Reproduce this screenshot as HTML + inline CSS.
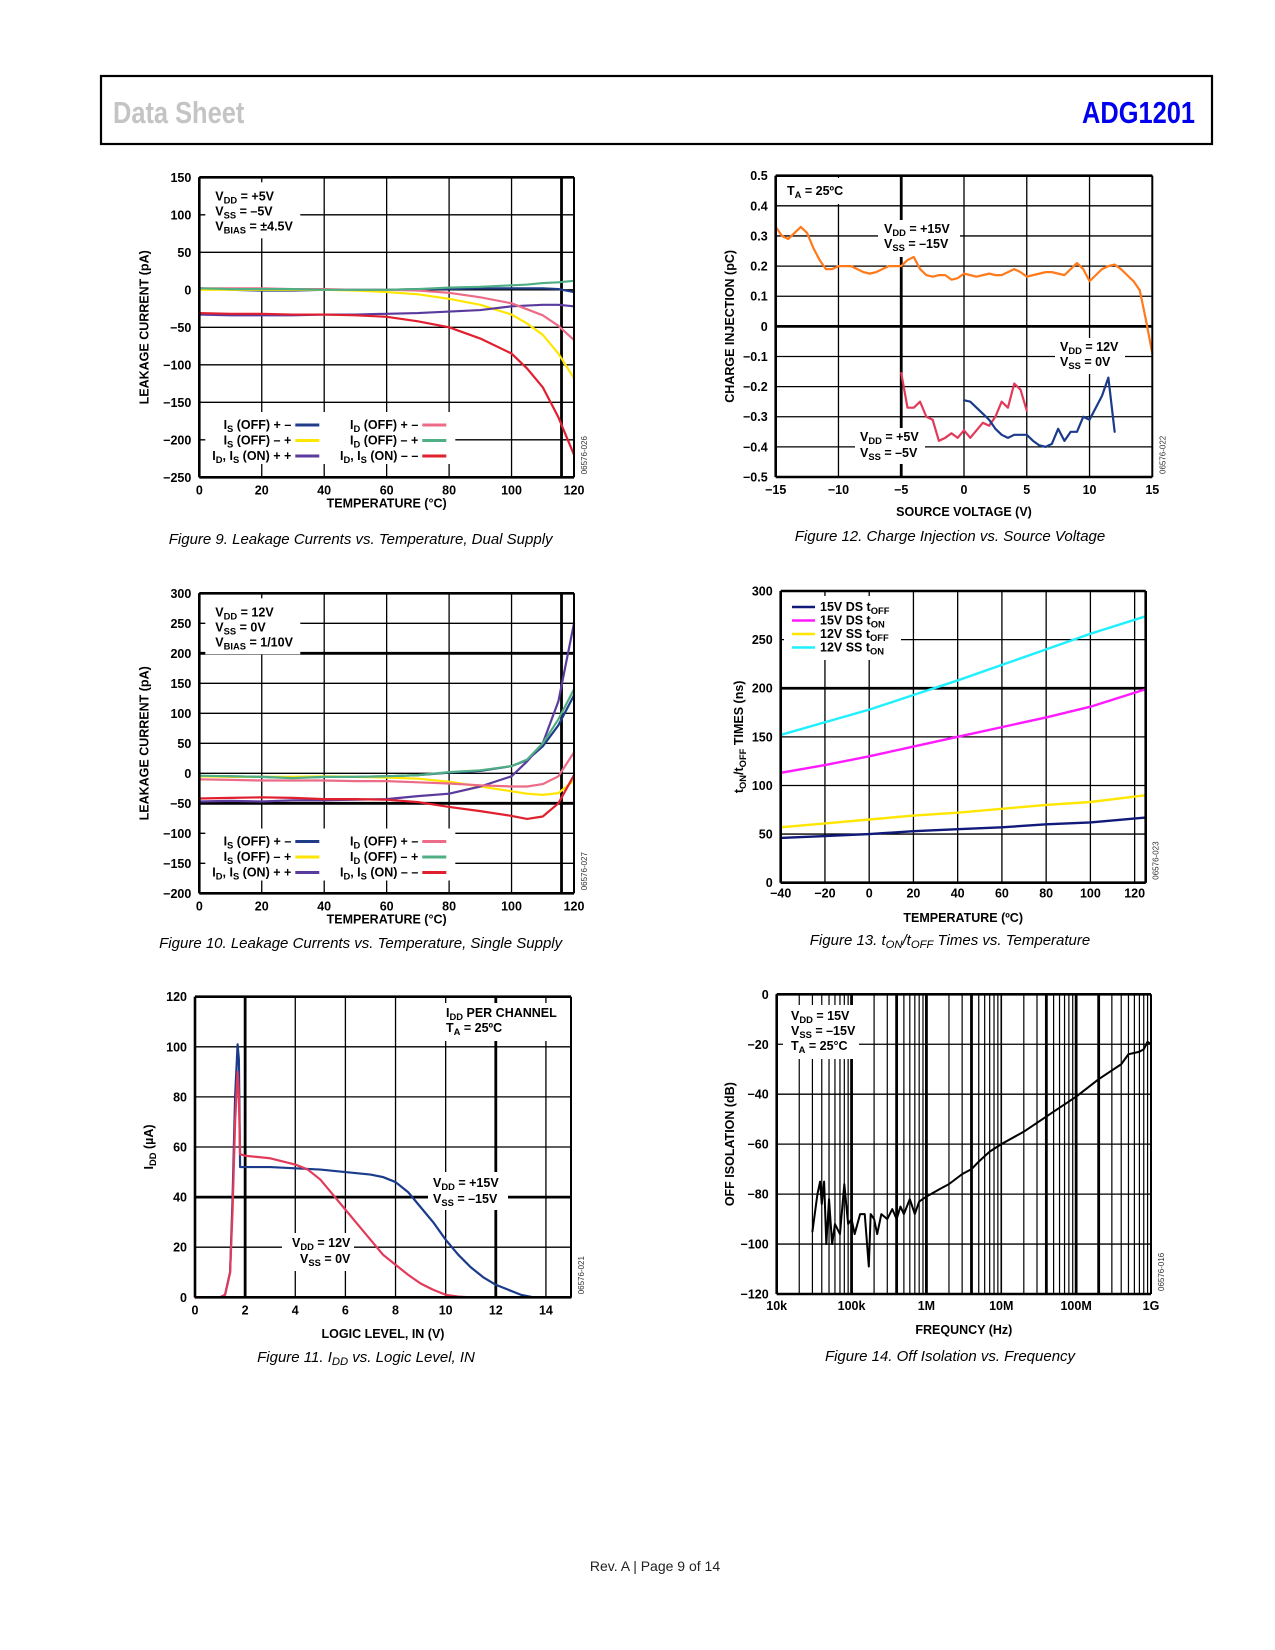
<!DOCTYPE html>
<html><head><meta charset="utf-8"><title>ADG1201 Data Sheet p9</title>
<style>
html,body{margin:0;padding:0;background:#fff;}
svg{display:block;}
text{font-family:"Liberation Sans",sans-serif;}
</style></head>
<body>
<svg id="page" width="1275" height="1650" viewBox="0 0 1275 1650" xmlns="http://www.w3.org/2000/svg">
<rect x="0" y="0" width="1275" height="1650" fill="#fff"/>
<rect x="101" y="76" width="1111" height="68" fill="none" stroke="#000" stroke-width="2.2"/>
<text x="113" y="123" fill="#c4c4c4" font-size="31" font-weight="bold" transform="translate(113 0) scale(0.82 1) translate(-113 0)" font-family="Liberation Sans Narrow, Liberation Sans, sans-serif">Data Sheet</text>
<text x="1195" y="123" fill="#0000ee" font-size="31" font-weight="bold" text-anchor="end" transform="translate(1195 0) scale(0.82 1) translate(-1195 0)" font-family="Liberation Sans Narrow, Liberation Sans, sans-serif">ADG1201</text>
<text x="655" y="1571" font-size="14" text-anchor="middle" fill="#222">Rev. A | Page 9 of 14</text>
<g id="charts"></g>
</svg>
<script>
// ---------- Figure 9 data ----------
const f9Temps = [0,10,20,30,40,50,60,70,80,90,100,105,110,115,120];
const f9IsOffPM = [2,0,-1,-1,0,0,0,1,1,2,2,2,2,1,-3];
const f9IsOffMP = [0,0,0,0,0,-1,-3,-6,-12,-20,-33,-45,-60,-85,-118];
const f9OnPP = [-33,-34,-34,-34,-33,-33,-32,-31,-29,-27,-22,-21,-20,-20,-22];
const f9IdOffPM = [2,2,2,1,1,0,0,-1,-4,-10,-18,-26,-34,-48,-67];
const f9IdOffMP = [2,1,1,1,0,0,0,1,3,4,6,7,9,10,12];
const f9OnMM = [-31,-32,-32,-33,-33,-34,-36,-42,-50,-65,-85,-105,-130,-170,-220];
const f9YTicks = [150,100,50,0,-50,-100,-150,-200,-250];
const f9XTicks = [0,20,40,60,80,100,120];
// ---------- Figure 10 data ----------
const f10Temps = [0,10,20,30,40,50,60,70,80,90,100,105,110,115,120];
const f10IsOffPM = [-5,-5,-6,-7,-6,-6,-5,-3,1,4,12,22,45,80,130];
const f10IsOffMP = [-5,-6,-6,-6,-5,-6,-7,-9,-14,-22,-30,-34,-36,-33,-12];
const f10OnPP = [-47,-46,-47,-45,-45,-44,-43,-38,-34,-22,-5,20,50,120,250];
const f10IdOffPM = [-10,-11,-12,-12,-12,-13,-13,-15,-17,-20,-22,-22,-18,-5,35];
const f10IdOffMP = [-4,-5,-6,-8,-6,-6,-5,-3,2,5,12,23,50,90,140];
const f10OnMM = [-42,-41,-40,-41,-43,-43,-44,-48,-56,-63,-71,-76,-72,-50,-3];
const f10YTicks = [300,250,200,150,100,50,0,-50,-100,-150,-200];
const f10XTicks = [0,20,40,60,80,100,120];
// ---------- Figure 11 data ----------
const f11NavyX = [0,1,1.2,1.4,1.5,1.6,1.7,1.75,1.8,1.85,2,3,4,5,6,7,7.5,8,8.5,9,9.5,10,10.5,11,11.5,12,12.5,13,13.5,14,15];
const f11NavyY = [0,0,1,10,40,80,101,95,52,52,52,52,51.5,51,50,49,48,46,42,36,30,23,17,12,8,5,3,1,0,0,0];
const f11RedX = [0,1,1.2,1.4,1.5,1.6,1.7,1.75,1.8,1.85,2,3,4,4.5,5,5.5,6,6.5,7,7.5,8,8.5,9,9.5,10,10.5,11,12];
const f11RedY = [0,0,1,10,35,70,90,80,57,57,56.5,55.5,53,51,47,41,35,29,23,17,13,9,5.5,3,1,0.3,0,0];
const f11YTicks = [0,20,40,60,80,100,120];
const f11XTicks = [0,2,4,6,8,10,12,14];
// ---------- Figure 12 data ----------
const f12OrangeX = [-15,-14.5,-14,-13.5,-13,-12.5,-12,-11.5,-11,-10.5,-10,-9,-8,-7.5,-7,-6,-5,-4.5,-4,-3.5,-3,-2.5,-2,-1.5,-1,-0.5,0,0.5,1,1.5,2,2.5,3,3.5,4,4.5,5,5.5,6,6.5,7,7.5,8,8.5,9,9.5,10,10.5,11,11.5,12,12.5,13,13.5,14,14.5,15];
const f12OrangeY = [.33,.30,.29,.31,.33,.31,.26,.22,.19,.19,.20,.20,.18,.175,.18,.20,.20,.22,.23,.19,.17,.165,.17,.17,.155,.16,.175,.17,.165,.17,.175,.17,.17,.18,.19,.18,.165,.17,.175,.18,.18,.175,.17,.19,.21,.19,.15,.17,.19,.20,.205,.19,.17,.15,.12,.02,-.09];
const f12RedX = [-5,-4.5,-4,-3.5,-3,-2.5,-2,-1.5,-1,-0.5,0,0.5,1,1.5,2,2.5,3,3.5,4,4.5,5];
const f12RedY = [-.155,-.27,-.27,-.25,-.30,-.31,-.38,-.37,-.355,-.37,-.345,-.37,-.345,-.32,-.33,-.30,-.25,-.27,-.19,-.21,-.28];
const f12NavyX = [0,0.5,1,1.5,2,2.5,3,3.5,4,4.5,5,5.5,6,6.5,7,7.5,8,8.5,9,9.5,10,10.5,11,11.5,12];
const f12NavyY = [-.245,-.25,-.27,-.29,-.31,-.34,-.36,-.37,-.36,-.36,-.36,-.38,-.395,-.40,-.39,-.34,-.38,-.35,-.35,-.30,-.31,-.27,-.23,-.17,-.35];
const f12YTicks = [0.5,0.4,0.3,0.2,0.1,0,-0.1,-0.2,-0.3,-0.4,-0.5];
const f12YLabels = ["0.5","0.4","0.3","0.2","0.1","0","−0.1","−0.2","−0.3","−0.4","−0.5"];
const f12XTicks = [-15,-10,-5,0,5,10,15];
// ---------- Figure 13 data ----------
const f13Temps = [-40,-20,0,20,40,60,80,100,125];
const f13DsOff = [46,48,50,53,55,57,60,62,67];
const f13DsOn = [113,121,130,140,150,160,170,181,199];
const f13SsOff = [57,61,65,69,72,76,80,83,90];
const f13SsOn = [152,165,178,193,208,224,240,256,274];
const f13YTicks = [0,50,100,150,200,250,300];
const f13XTicks = [-40,-20,0,20,40,60,80,100,120];
// ---------- Figure 14 data ----------
const f14Freq = [3e4,3.5e4,3.8e4,4e4,4.3e4,4.6e4,5e4,5.5e4,6e4,7e4,8e4,9e4,1e5,1.1e5,1.3e5,1.5e5,1.7e5,1.8e5,2e5,2.2e5,2.5e5,3e5,3.5e5,4e5,4.5e5,5e5,6e5,7e5,8e5,1e6,1.5e6,2e6,3e6,4e6,5e6,7e6,1e7,2e7,5e7,1e8,2e8,4e8,5e8,7e8,8e8,9e8,1e9];
const f14Db = [-95,-80,-75,-84,-75,-100,-82,-100,-92,-96,-76,-92,-90,-96,-88,-88,-109,-88,-90,-96,-88,-90,-86,-90,-85,-88,-82,-88,-83,-81,-78,-76,-72,-70,-67,-63,-60,-55,-47,-41,-34,-28,-24,-23,-22,-19,-20];
const f14YTicks = [0,-20,-40,-60,-80,-100,-120];
const f14XTickVals = [1e4,1e5,1e6,1e7,1e8,1e9];
const f14XTickLabels = ["10k","100k","1M","10M","100M","1G"];

const NS = "http://www.w3.org/2000/svg";
const root = document.getElementById("charts");
const C = {navy:"#1f3c88", yellow:"#ffe600", purple:"#5b3a9e", pink:"#ec6b86", green:"#4fae84", red:"#e0202e",
  orange:"#ff7a1a", crimson:"#e23a5a", navy2:"#1a3a8a", magenta:"#ff1aff", cyan:"#1ef0ff", dnavy:"#101a7a"};

function mk(tag, parent, attrs) {
  const el = document.createElementNS(NS, tag);
  for (const k in attrs) el.setAttribute(k, attrs[k]);
  parent.appendChild(el);
  return el;
}
function grp(name) {
  const g = document.createElementNS(NS, "g");
  
  
  root.appendChild(g);
  return g;
}
function ln(g, x1, y1, x2, y2, w, name) {
  const el = mk("line", g, {x1:x1, y1:y1, x2:x2, y2:y2, stroke:"#000", "stroke-width":w});
  
  
  return el;
}
function txt(g, x, y, s, opt, name) {
  opt = opt || {};
  const el = mk("text", g, {x:x, y:y, "font-size":opt.size || 12.5, "font-weight":opt.weight || "bold",
    "text-anchor":opt.anchor || "start", fill:opt.fill || "#000"});
  if (opt.italic) el.setAttribute("font-style", "italic");
  if (opt.rotate) el.setAttribute("transform", "rotate(-90 " + x + " " + y + ")");
  
  
  const parts = s.split(/_\{([^}]*)\}/);
  parts.forEach((p, i) => {
    if (p === "") return;
    const ts = document.createElementNS(NS, "tspan");
    ts.textContent = p;
    if (i % 2 === 1) { ts.setAttribute("font-size", "0.75em"); ts.setAttribute("dy", "3"); }
    else if (i > 0) { ts.setAttribute("dy", "-3"); }
    el.appendChild(ts);
  });
  return el;
}
function whiteBox(g, x, y, w, h, name) {
  const el = mk("rect", g, {x:x, y:y, width:w, height:h, fill:"#fff"});
  
  
}
function series(g, xs, ys, sx, sy, color, name, w) {
  const d = xs.map((v, i) => (i ? "L" : "M") + sx(v).toFixed(2) + " " + sy(ys[i]).toFixed(2)).join(" ");
  const el = mk("path", g, {d:d, fill:"none", stroke:color, "stroke-width":w || 2.2, "stroke-linejoin":"round", "stroke-linecap":"round"});
  
  
}
function lin(d0, d1, r0, r1) { return v => r0 + (v - d0) / (d1 - d0) * (r1 - r0); }
function fmt(v) { return v < 0 ? "−" + Math.abs(v) : String(v); }
function frame(g, x0, y0, x1, y1) {
  ln(g, x0, y0, x1, y0, 2.6, "plot-frame-top");
  ln(g, x0, y1, x1, y1, 2.6, "plot-frame-bottom");
  ln(g, x0, y0, x0, y1, 2.6, "plot-frame-left");
  ln(g, x1, y0, x1, y1, 2, "plot-frame-right");
}
function code(g, x, y, s) { txt(g, x, y, s, {size:8, weight:"normal", rotate:true, fill:"#333"}, "figure-code"); }

// ===== Figure 9 / 10 shared leakage charts =====
function leakChart(name, x0, y0, x1, y1, ymin, ymax, yTicks, xTicks, thickY, temps, sets, ann, legY, caption, capY, codeTxt) {
  const g = grp(name);
  const sx = lin(0, 120, x0, x1), sy = lin(ymin, ymax, y1, y0);
  xTicks.forEach(v => ln(g, sx(v), y0, sx(v), y1, 1.3, "grid-x"));
  yTicks.forEach(v => ln(g, x0, sy(v), x1, sy(v), thickY.indexOf(v) >= 0 ? 2.8 : 1.3, "grid-y"));
  ln(g, sx(116), y0, sx(116), y1, 2.8, "grid-thick-x");
  whiteBox(g, x0 + 6, y0 + 5, 95, 56, "conditions-box");
  whiteBox(g, x0 + 6, legY - 13, 250, 52, "legend-box");
  sets.forEach(s => series(g, temps, s.v, sx, sy, s.c, s.n));
  frame(g, x0, y0, x1, y1);
  yTicks.forEach(v => txt(g, x0 - 8, sy(v) + 4.5, fmt(v), {anchor:"end"}, "y-tick-label"));
  xTicks.forEach(v => txt(g, sx(v), y1 + 17, fmt(v), {anchor:"middle"}, "x-tick-label"));
  txt(g, (x0 + x1) / 2, y1 + 30, "TEMPERATURE (°C)", {anchor:"middle"}, "x-axis-title");
  txt(g, x0 - 51, (y0 + y1) / 2, "LEAKAGE CURRENT (pA)", {anchor:"middle", rotate:true}, "y-axis-title");
  ann.forEach((a, i) => txt(g, x0 + 16, y0 + 23 + i * 15, a, {}, "conditions-text"));
  const L = ["I_{S} (OFF) + –", "I_{S} (OFF) – +", "I_{D}, I_{S} (ON) + +"];
  const R = ["I_{D} (OFF) + –", "I_{D} (OFF) – +", "I_{D}, I_{S} (ON) – –"];
  const lc = [sets[0].c, sets[1].c, sets[2].c], rc = [sets[3].c, sets[4].c, sets[5].c];
  for (let i = 0; i < 3; i++) {
    const yy = legY + i * 15.5;
    txt(g, x0 + 92, yy + 4, L[i], {anchor:"end"}, "legend-entry");
    mk("line", g, {x1:x0 + 96, y1:yy, x2:x0 + 120, y2:yy, stroke:lc[i], "stroke-width":3});
    txt(g, x0 + 219, yy + 4, R[i], {anchor:"end"}, "legend-entry");
    mk("line", g, {x1:x0 + 223, y1:yy, x2:x0 + 247, y2:yy, stroke:rc[i], "stroke-width":3});
  }
  code(g, x1 + 13, y1 - 3, codeTxt);
  txt(g, (x0 + x1) / 2 - 26, capY, caption, {anchor:"middle", weight:"normal", italic:true, size:15}, "figure-caption");
}
leakChart("figure-9-chart", 199.3, 177.3, 574, 477.3, -250, 150, f9YTicks, f9XTicks, [],
  f9Temps, [
    {v:f9IsOffPM, c:C.navy, n:"series-is-off-pm"}, {v:f9IsOffMP, c:C.yellow, n:"series-is-off-mp"},
    {v:f9OnPP, c:C.purple, n:"series-on-pp"}, {v:f9IdOffPM, c:C.pink, n:"series-id-off-pm"},
    {v:f9IdOffMP, c:C.green, n:"series-id-off-mp"}, {v:f9OnMM, c:C.red, n:"series-on-mm"}],
  ["V_{DD} = +5V", "V_{SS} = –5V", "V_{BIAS} = ±4.5V"], 425, "Figure 9. Leakage Currents vs. Temperature, Dual Supply", 544, "06576-026");
leakChart("figure-10-chart", 199.3, 593.3, 574, 893.3, -200, 300, f10YTicks, f10XTicks, [200, -50],
  f10Temps, [
    {v:f10IsOffPM, c:C.navy, n:"series-is-off-pm"}, {v:f10IsOffMP, c:C.yellow, n:"series-is-off-mp"},
    {v:f10OnPP, c:C.purple, n:"series-on-pp"}, {v:f10IdOffPM, c:C.pink, n:"series-id-off-pm"},
    {v:f10IdOffMP, c:C.green, n:"series-id-off-mp"}, {v:f10OnMM, c:C.red, n:"series-on-mm"}],
  ["V_{DD} = 12V", "V_{SS} = 0V", "V_{BIAS} = 1/10V"], 841.5, "Figure 10. Leakage Currents vs. Temperature, Single Supply", 948, "06576-027");

// ===== Figure 11 =====
(function () {
  const g = grp("figure-11-chart");
  const x0 = 195, x1 = 571, y0 = 996.7, y1 = 1297.3;
  const sx = lin(0, 15, x0, x1), sy = lin(0, 120, y1, y0);
  [0,2,4,6,8,10,12,14].forEach(v => ln(g, sx(v), y0, sx(v), y1, (v === 2 || v === 12) ? 2.8 : 1.3, "grid-x"));
  f11YTicks.forEach(v => ln(g, x0, sy(v), x1, sy(v), v === 40 ? 2.8 : 1.3, "grid-y"));
  whiteBox(g, 440, 1003, 118, 38, "conditions-box");
  whiteBox(g, 428, 1172, 80, 38, "annotation-box");
  whiteBox(g, 282, 1233, 72, 38, "annotation-box");
  series(g, f11NavyX, f11NavyY, sx, sy, C.navy2, "series-vdd-15v");
  series(g, f11RedX, f11RedY, sx, sy, C.crimson, "series-vdd-12v");
  frame(g, x0, y0, x1, y1);
  f11YTicks.forEach(v => txt(g, x0 - 8, sy(v) + 4.5, fmt(v), {anchor:"end"}, "y-tick-label"));
  f11XTicks.forEach(v => txt(g, sx(v), y1 + 17, fmt(v), {anchor:"middle"}, "x-tick-label"));
  txt(g, (x0 + x1) / 2, 1338, "LOGIC LEVEL, IN (V)", {anchor:"middle"}, "x-axis-title");
  txt(g, 153, (y0 + y1) / 2, "I_{DD} (µA)", {anchor:"middle", rotate:true}, "y-axis-title");
  txt(g, 446, 1017, "I_{DD} PER CHANNEL", {}, "conditions-text");
  txt(g, 446, 1032, "T_{A} = 25ºC", {}, "conditions-text");
  txt(g, 433, 1187, "V_{DD} = +15V", {}, "annotation-text");
  txt(g, 433, 1203, "V_{SS} = –15V", {}, "annotation-text");
  txt(g, 292, 1247, "V_{DD} = 12V", {}, "annotation-text");
  txt(g, 300, 1263, "V_{SS} = 0V", {}, "annotation-text");
  code(g, x1 + 13, y1 - 3, "06576-021");
  txt(g, 366, 1362, "Figure 11. I_{DD} vs. Logic Level, IN", {anchor:"middle", weight:"normal", italic:true, size:15}, "figure-caption");
})();

// ===== Figure 12 =====
(function () {
  const g = grp("figure-12-chart");
  const x0 = 775.7, x1 = 1152.3, y0 = 175.7, y1 = 477;
  const sx = lin(-15, 15, x0, x1), sy = lin(-0.5, 0.5, y1, y0);
  f12XTicks.forEach(v => ln(g, sx(v), y0, sx(v), y1, v === -5 ? 2.8 : 1.3, "grid-x"));
  f12YTicks.forEach(v => ln(g, x0, sy(v), x1, sy(v), v === 0 ? 2.8 : 1.3, "grid-y"));
  whiteBox(g, 783, 178, 62, 26, "conditions-box");
  whiteBox(g, 878, 220, 82, 37, "annotation-box");
  whiteBox(g, 1055, 338, 70, 36, "annotation-box");
  whiteBox(g, 855, 428, 70, 36, "annotation-box");
  series(g, f12OrangeX, f12OrangeY, sx, sy, C.orange, "series-vdd-15v");
  series(g, f12RedX, f12RedY, sx, sy, C.crimson, "series-vdd-5v");
  series(g, f12NavyX, f12NavyY, sx, sy, C.navy2, "series-vdd-12v");
  frame(g, x0, y0, x1, y1);
  f12YTicks.forEach((v, i) => txt(g, x0 - 8, sy(v) + 4.5, f12YLabels[i], {anchor:"end"}, "y-tick-label"));
  f12XTicks.forEach(v => txt(g, sx(v), y1 + 17, fmt(v), {anchor:"middle"}, "x-tick-label"));
  txt(g, (x0 + x1) / 2, 516, "SOURCE VOLTAGE (V)", {anchor:"middle"}, "x-axis-title");
  txt(g, 734, (y0 + y1) / 2, "CHARGE INJECTION (pC)", {anchor:"middle", rotate:true}, "y-axis-title");
  txt(g, 787, 195, "T_{A} = 25ºC", {}, "conditions-text");
  txt(g, 884, 233, "V_{DD} = +15V", {}, "annotation-text");
  txt(g, 884, 248, "V_{SS} = –15V", {}, "annotation-text");
  txt(g, 1060, 351, "V_{DD} = 12V", {}, "annotation-text");
  txt(g, 1060, 366, "V_{SS} = 0V", {}, "annotation-text");
  txt(g, 860, 441, "V_{DD} = +5V", {}, "annotation-text");
  txt(g, 860, 457, "V_{SS} = –5V", {}, "annotation-text");
  code(g, x1 + 13, y1 - 3, "06576-022");
  txt(g, 950, 541, "Figure 12. Charge Injection vs. Source Voltage", {anchor:"middle", weight:"normal", italic:true, size:15}, "figure-caption");
})();

// ===== Figure 13 =====
(function () {
  const g = grp("figure-13-chart");
  const x0 = 780.7, x1 = 1145.7, y0 = 591, y1 = 882.7;
  const sx = lin(-40, 125, x0, x1), sy = lin(0, 300, y1, y0);
  f13XTicks.forEach(v => ln(g, sx(v), y0, sx(v), y1, 1.3, "grid-x"));
  f13YTicks.forEach(v => ln(g, x0, sy(v), x1, sy(v), v === 200 ? 2.8 : 1.3, "grid-y"));
  whiteBox(g, 784, 596, 117, 64, "legend-box");
  series(g, f13Temps, f13DsOff, sx, sy, C.dnavy, "series-15v-ds-toff", 2.4);
  series(g, f13Temps, f13DsOn, sx, sy, C.magenta, "series-15v-ds-ton", 2.4);
  series(g, f13Temps, f13SsOff, sx, sy, C.yellow, "series-12v-ss-toff", 2.4);
  series(g, f13Temps, f13SsOn, sx, sy, C.cyan, "series-12v-ss-ton", 2.4);
  frame(g, x0, y0, x1, y1);
  ln(g, x1, y0, x1, y1, 2.6, "plot-frame-right");
  f13YTicks.forEach(v => txt(g, x0 - 8, sy(v) + 4.5, fmt(v), {anchor:"end"}, "y-tick-label"));
  f13XTicks.forEach(v => txt(g, sx(v), y1 + 15, fmt(v), {anchor:"middle"}, "x-tick-label"));
  txt(g, (x0 + x1) / 2, 922, "TEMPERATURE (ºC)", {anchor:"middle"}, "x-axis-title");
  txt(g, 743, (y0 + y1) / 2, "t_{ON}/t_{OFF} TIMES (ns)", {anchor:"middle", rotate:true}, "y-axis-title");
  const names = ["15V DS t_{OFF}", "15V DS t_{ON}", "12V SS t_{OFF}", "12V SS t_{ON}"];
  const cols = [C.dnavy, C.magenta, C.yellow, C.cyan];
  for (let i = 0; i < 4; i++) {
    const yy = 607 + i * 13.5;
    mk("line", g, {x1:792, y1:yy, x2:815, y2:yy, stroke:cols[i], "stroke-width":2.6});
    txt(g, 820, yy + 4, names[i], {}, "legend-entry");
  }
  code(g, x1 + 13, y1 - 3, "06576-023");
  txt(g, 950, 945, "Figure 13. t_{ON}/t_{OFF} Times vs. Temperature", {anchor:"middle", weight:"normal", italic:true, size:15}, "figure-caption");
})();

// ===== Figure 14 =====
(function () {
  const g = grp("figure-14-chart");
  const x0 = 776.7, x1 = 1151, y0 = 994.3, y1 = 1294;
  const sx = v => x0 + (Math.log10(v) - 4) / 5 * (x1 - x0), sy = lin(-120, 0, y1, y0);
  const thick = [1e5, 4e5, 1e6, 4e6, 4e7, 1e8, 2e8];
  for (let d = 4; d < 9; d++) {
    for (let m = 1; m <= 9; m++) {
      const f = m * Math.pow(10, d);
      const isThick = thick.some(t => Math.abs(t - f) / t < 1e-6);
      ln(g, sx(f), y0, sx(f), y1, isThick ? 2.8 : (m === 1 ? 1.6 : 1.2), "grid-x");
    }
  }
  f14YTicks.forEach(v => ln(g, x0, sy(v), x1, sy(v), 1.3, "grid-y"));
  whiteBox(g, 783, 1005, 76, 54, "conditions-box");
  series(g, f14Freq, f14Db, sx, sy, "#000", "series-off-isolation", 2);
  frame(g, x0, y0, x1, y1);
  f14YTicks.forEach(v => txt(g, x0 - 8, sy(v) + 4.5, fmt(v), {anchor:"end"}, "y-tick-label"));
  f14XTickVals.forEach((v, i) => txt(g, sx(v), y1 + 16, f14XTickLabels[i], {anchor:"middle"}, "x-tick-label"));
  txt(g, (x0 + x1) / 2, 1334, "FREQUNCY (Hz)", {anchor:"middle"}, "x-axis-title");
  txt(g, 734, (y0 + y1) / 2, "OFF ISOLATION (dB)", {anchor:"middle", rotate:true}, "y-axis-title");
  txt(g, 791, 1020, "V_{DD} = 15V", {}, "conditions-text");
  txt(g, 791, 1035, "V_{SS} = –15V", {}, "conditions-text");
  txt(g, 791, 1050, "T_{A} = 25°C", {}, "conditions-text");
  code(g, x1 + 13, y1 - 3, "06576-016");
  txt(g, 950, 1361, "Figure 14. Off Isolation vs. Frequency", {anchor:"middle", weight:"normal", italic:true, size:15}, "figure-caption");
})();
</script>
</body></html>
